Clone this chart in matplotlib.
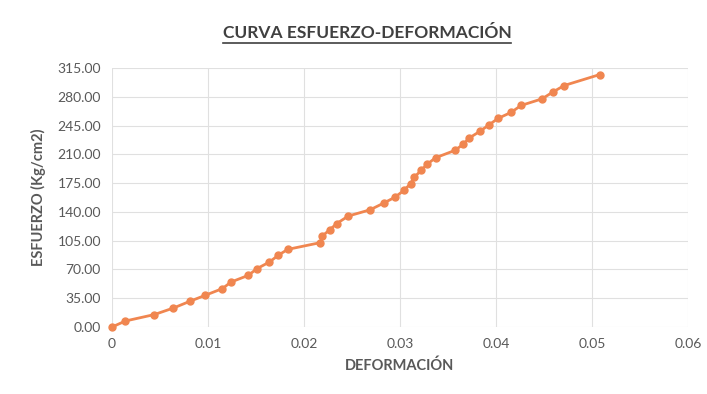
import matplotlib
matplotlib.use("Agg")
import matplotlib.pyplot as plt
from matplotlib.lines import Line2D

# strain / stress readings of the test
deformacion = [0, 0.0014, 0.0044, 0.0064, 0.0081, 0.0097, 0.0115, 0.0124,
               0.0142, 0.0151, 0.0164, 0.0173, 0.0183, 0.0217, 0.0219, 0.0227,
               0.0234, 0.0246, 0.0269, 0.0283, 0.0295, 0.0304, 0.0311, 0.0315,
               0.0322, 0.0328, 0.0337, 0.0357, 0.0366, 0.0372, 0.0383, 0.0393,
               0.0402, 0.0416, 0.0426, 0.0448, 0.0459, 0.0471, 0.0508]
esfuerzo = [0, 7.3, 15.1, 23.1, 31.2, 38.5, 46.7, 54.7,
            62.8, 71.0, 79.0, 87.1, 94.4, 102.6, 110.6, 118.4,
            125.7, 134.9, 142.6, 150.7, 158.0, 166.1, 174.2, 182.3,
            190.4, 197.7, 205.8, 214.7, 222.3, 229.8, 237.8, 246.1,
            253.6, 261.2, 269.4, 277.5, 285.6, 293.7, 307.0]

x_ticks = [0, 0.01, 0.02, 0.03, 0.04, 0.05, 0.06]
x_labels = ["0", "0.01", "0.02", "0.03", "0.04", "0.05", "0.06"]
y_ticks = [0, 35, 70, 105, 140, 175, 210, 245, 280, 315]

plt.rcParams["font.family"] = ["Lato", "DejaVu Sans"]
TXT = "#595959"

fig = plt.figure(figsize=(7.07, 3.94), dpi=100)
ax = fig.add_axes([112 / 707, 1 - 327 / 394, 576 / 707, 259 / 394])

ax.plot(deformacion, esfuerzo, color="#F08650", lw=2.0, marker="o",
        markersize=5, markerfacecolor="#F08650", markeredgecolor="#F08650",
        zorder=3, clip_on=False)

ax.set_xlim(0, 0.06)
ax.set_ylim(0, 315)
ax.set_xticks(x_ticks)
ax.set_xticklabels(x_labels)
ax.set_yticks(y_ticks)
ax.set_yticklabels(["%.2f" % v for v in y_ticks])
ax.grid(True, color="#E0E0E0", lw=0.8)
ax.set_axisbelow(True)
for s in ax.spines.values():
    s.set_visible(False)
ax.tick_params(length=0, labelsize=10, colors=TXT, pad=8)

ax.set_xlabel("DEFORMACIÓN", fontsize=10.5, fontweight="bold", color=TXT,
              labelpad=6)
ax.set_ylabel("ESFUERZO (Kg/cm2)", fontsize=10.5, fontweight="bold", color=TXT,
              labelpad=8)

title = fig.text(367 / 707, 1 - 33 / 394, "CURVA ESFUERZO-DEFORMACIÓN",
                 ha="center", va="center", fontsize=12.5, fontweight="bold",
                 color="#404040")

# underline the title
fig.canvas.draw()
bb = title.get_window_extent().transformed(fig.transFigure.inverted())
yl = bb.y0 - 1.5 / 394
fig.add_artist(Line2D([bb.x0, bb.x1], [yl, yl], transform=fig.transFigure,
                      color="#404040", lw=1.2))

fig.savefig("out.png", dpi=100, facecolor="white")
